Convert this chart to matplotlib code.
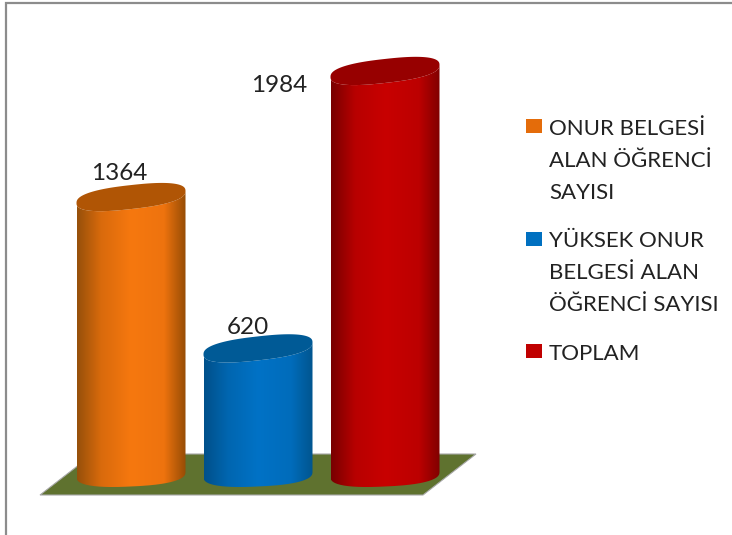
import numpy as np
import matplotlib
matplotlib.use('Agg')
import matplotlib.pyplot as plt
from matplotlib.colors import LinearSegmentedColormap
from matplotlib.patches import Polygon, PathPatch, Rectangle
from matplotlib.path import Path

values = [1364, 620, 1984]
legend_labels = ['ONUR BELGESİ\nALAN ÖĞRENCİ\nSAYISI',
                 'YÜKSEK ONUR\nBELGESİ ALAN\nÖĞRENCİ SAYISI',
                 'TOPLAM']
side_colors = [['#96500a', '#d96a0c', '#f6780f', '#ee730e', '#964c05'],
               ['#00508a', '#0066b0', '#0072c6', '#006cbb', '#00558f'],
               ['#780000', '#b80000', '#c80000', '#bc0000', '#7d0000']]
gradient_stops = [0, 0.22, 0.5, 0.8, 1]
top_colors = ['#b05505', '#005a96', '#970000']
legend_colors = ['#e46c0a', '#0070c0', '#c00000']
label_offsets = [(-12, 13), (-10, 10), (-106, -25)]

W, H = 732, 535
plt.rcParams['font.family'] = ['Lato', 'DejaVu Sans']
fig = plt.figure(figsize=(W / 100, H / 100), dpi=100)

# background layer, in pixels
bg = fig.add_axes([0, 0, 1, 1])
bg.set_xlim(0, W)
bg.set_ylim(H, 0)
bg.axis('off')
bg.plot([6, 6, W], [H, 3, 3], color='#8c8c8c', lw=1.6, solid_joinstyle='miter')
bg.add_patch(Polygon([(40, 495), (423, 495), (476, 454), (93, 454)],
                     facecolor='#5f722f', edgecolor='#a8a8a8', lw=0.8))

# chart layer: x = category, y = value
x_step = 127.0
y_scale = 0.2034
x0_px = 131.0
y0_px = 474.5
ax = fig.add_axes([0, 0, 1, 1], facecolor='none')
xlim = (-x0_px / x_step, (W - x0_px) / x_step)
ylim = (-(H - y0_px) / y_scale, y0_px / y_scale)
ax.axis('off')

half = 54.5 / x_step
t_front = np.linspace(np.pi, 2 * np.pi, 80)
t_all = np.linspace(0, 2 * np.pi, 160)


def ellipse(x, v, t, shear, minor):
  # slightly fuller than a true ellipse, y offsets in pixels going up
  c = np.sign(np.cos(t)) * np.abs(np.cos(t)) ** 0.8
  s = np.sign(np.sin(t)) * np.abs(np.sin(t)) ** 0.8
  px = x + half * c
  py = v + (shear * c + minor * s) / y_scale
  return np.column_stack([px, py])


for i, v in enumerate(values):
  front = ellipse(i, 0, t_front, 2.5, 12)
  back = ellipse(i, v, t_front[::-1], 6, 12)
  cmap = LinearSegmentedColormap.from_list('side', list(zip(gradient_stops, side_colors[i])))
  im = ax.imshow(np.linspace(0, 1, 256)[None, :], cmap=cmap, aspect='auto',
                 extent=(i - half, i + half, -20 / y_scale, v + 20 / y_scale), zorder=2)
  body = PathPatch(Path(np.vstack([front, back, front[:1]])), transform=ax.transData,
                   facecolor='none', edgecolor='none')
  ax.add_patch(body)
  im.set_clip_path(body)
  ax.add_patch(Polygon(ellipse(i, v, t_all, 6, 12), facecolor=top_colors[i],
                       edgecolor='none', zorder=3))
  ax.annotate(str(v), (i, v), xytext=label_offsets[i], textcoords='offset pixels',
              ha='center', va='bottom', fontsize=17.5, color='#222222')

ax.set_xlim(xlim)
ax.set_ylim(ylim)

# legend
legend_y = [126, 239, 351]
text_shift = [-7, -8, -7]
for i, lab in enumerate(legend_labels):
  bg.add_patch(Rectangle((526, legend_y[i] - 7), 15.5, 14, facecolor=legend_colors[i],
                         edgecolor='none'))
  bg.text(549, legend_y[i] + text_shift[i], lab, ha='left', va='top', fontsize=16,
          color='#222222', linespacing=1.76)

fig.savefig('out.png', dpi=100)
